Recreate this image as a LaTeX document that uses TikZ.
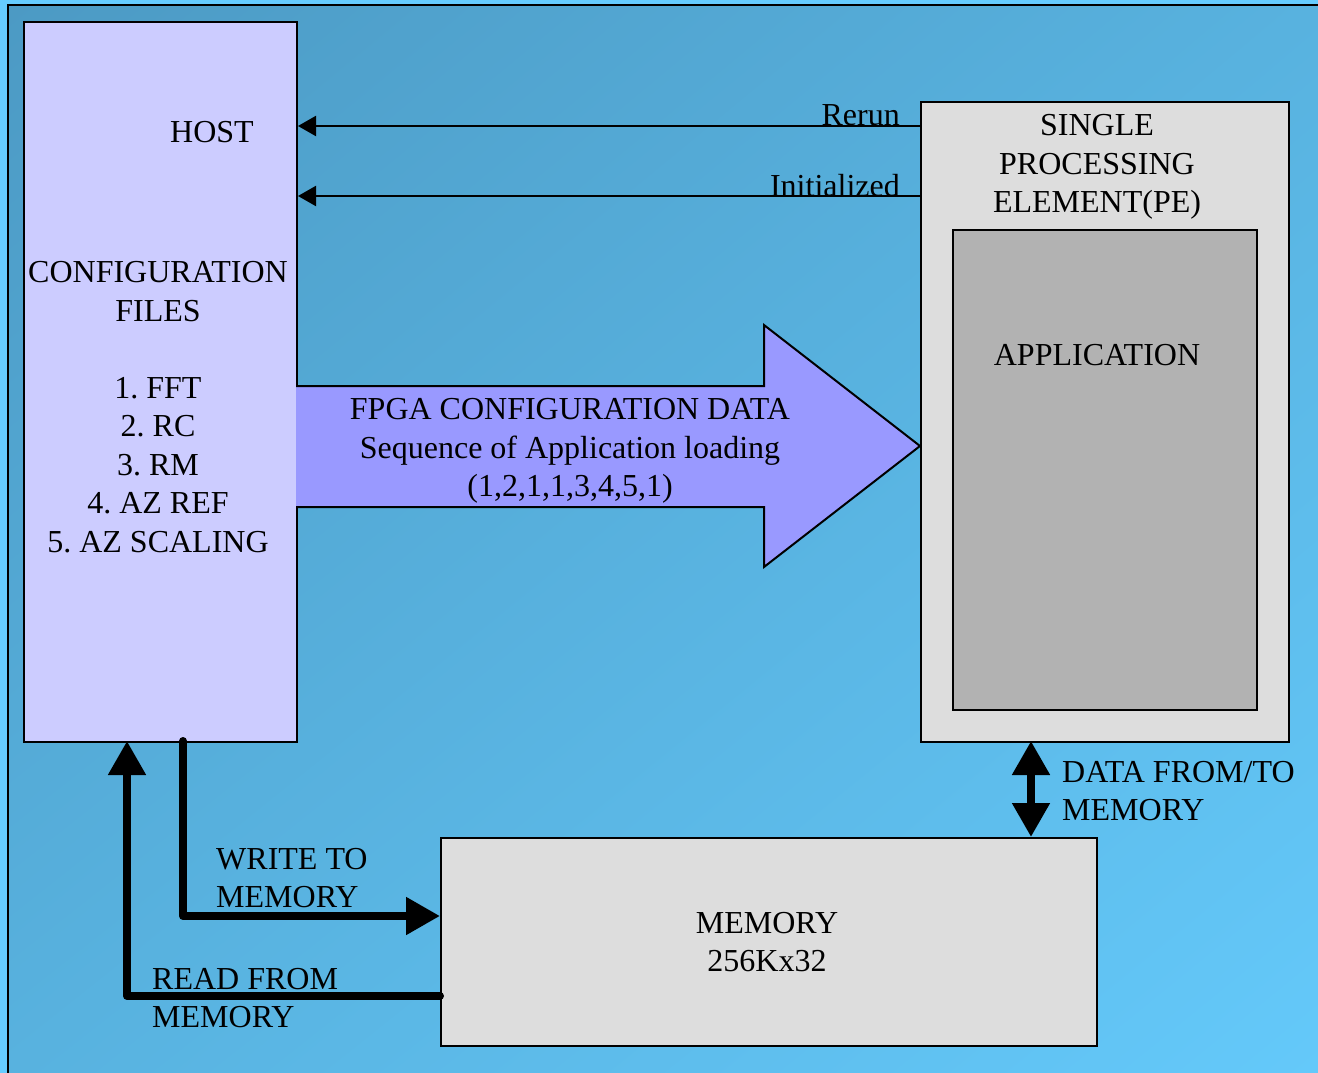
\documentclass[tikz,border=0pt]{standalone}
\usepackage{fontspec}
\setmainfont{Liberation Serif}
\usetikzlibrary{arrows.meta,shadings}
\definecolor{bgout}{HTML}{66CCFF}
\definecolor{bgdark}{HTML}{4C9AC4}
\definecolor{bgmid}{HTML}{58B2DF}
\definecolor{bglight}{HTML}{64C9FA}
\definecolor{hostc}{HTML}{CCCCFF}
\definecolor{pec}{HTML}{DDDDDD}
\definecolor{appc}{HTML}{B2B2B2}
\definecolor{bigc}{HTML}{9999FF}
\frenchspacing
\begin{document}
\begin{tikzpicture}[x=1pt,y=-1pt,
  font=\fontsize{32}{38.5}\selectfont,
  box/.style={draw=black,line width=2pt,rectangle,inner sep=0pt},
  lbl/.style={inner sep=0pt,align=center},
  lbll/.style={inner sep=0pt,align=left,anchor=west},
  thinarr/.style={line width=2pt,-{Triangle[length=18pt,width=20pt]}},
  thickarr/.style={line width=8pt,line join=round,line cap=round,-{Triangle[length=34pt,width=36pt]}}]
\useasboundingbox (0,0) rectangle (1318,1073);
\fill[bgout] (0,0) rectangle (1318,1073);
\shade[upper left=bgdark,lower right=bglight,upper right=bgmid,lower left=bgmid] (8,5) rectangle (1318,1073);
\draw[line width=2pt] (8,1073) -- (8,5) -- (1318,5);

% boxes
\node[box,fill=hostc,minimum width=273pt,minimum height=720pt,anchor=north west] (host) at (23,21) {};
\node[box,fill=pec,minimum width=368pt,minimum height=640pt,anchor=north west] (pe) at (920,101) {};
\node[box,fill=appc,minimum width=304pt,minimum height=480pt,anchor=north west] (app) at (952,229) {};
\node[box,fill=pec,minimum width=656pt,minimum height=208pt,anchor=north west] (mem) at (440,837) {};

% texts in boxes
\node[lbl] (hosttxt) at (212,132) {HOST};
\node[lbl] (cfgtxt) at (158,407) {CONFIGURATION\\FILES\\[38.5pt]1. FFT\\2. RC\\3. RM\\4. AZ REF\\5. AZ SCALING};
\node[lbl] (petxt) at (1097,167) {SINGLE\\PROCESSING\\ELEMENT(PE)};
\node[lbl] (apptxt) at (1097,355) {APPLICATION};
\node[lbl] (memtxt) at (767,942) {MEMORY\\256Kx32};

% big arrow
\fill[bigc] (296,386) -- (764,386) -- (764,325) -- (920,446) -- (764,567) -- (764,507) -- (296,507) -- cycle;
\draw[line width=2pt,line join=miter] (296,386) -- (764,386) -- (764,325) -- (920,446) -- (764,567) -- (764,507) -- (296,507);
\node[lbl] (bigtxt) at (570,451) {FPGA CONFIGURATION DATA\\Sequence of Application loading\\(1,2,1,1,3,4,5,1)};

% thin arrows
\coordinate (rr) at (920,126);
\coordinate (ii) at (920,196);
\draw[thinarr] (rr) -- (rr -| host.east);
\draw[thinarr] (ii) -- (ii -| host.east);
\node[inner sep=0pt,anchor=base east] (rerun) at (900,125) {Rerun};
\node[inner sep=0pt,anchor=base east] (init) at (900,196) {Initialized};

% thick arrows
\coordinate (w0) at (183,741);
\coordinate (w1) at (440,916);
\draw[thickarr] (w0) |- (w1);
\coordinate (r0) at (440,996);
\coordinate (r1) at (127,741);
\draw[thickarr] (r0) -| (r1);
\coordinate (d0) at (1031,741);
\coordinate (d1) at (1031,837);
\draw[line width=8pt,{Triangle[length=34pt,width=36pt]}-{Triangle[length=34pt,width=36pt]}] (d0) -- (d1);

% labels
\node[lbll] (wlbl) at (216,878) {WRITE TO\\MEMORY};
\node[lbll] (rlbl) at (152,998) {READ FROM\\MEMORY};
\node[lbll] (dlbl) at (1062,791) {DATA FROM/TO\\MEMORY};
\end{tikzpicture}
\end{document}
